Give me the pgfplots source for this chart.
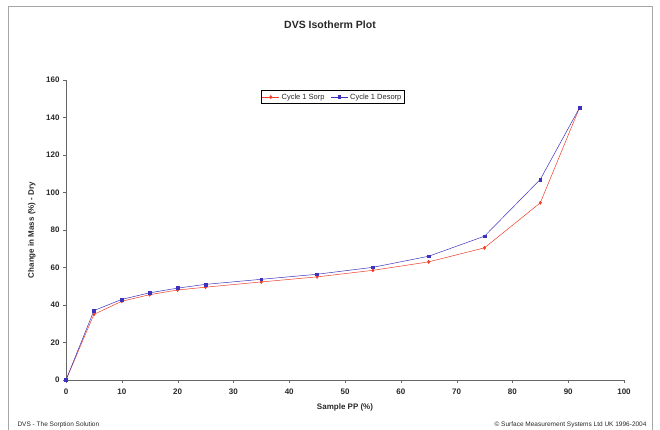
\documentclass[border=0pt]{standalone}
\usepackage{pgfplots}
\pgfplotsset{compat=1.18}
\usepackage{fontspec}
\setmainfont{Liberation Sans}
\definecolor{sorp}{RGB}{240,60,40}
\definecolor{desorp}{RGB}{60,50,190}
\definecolor{txt}{RGB}{40,40,40}
\begin{document}
\begin{tikzpicture}[x=1pt,y=1pt]
\path[use as bounding box] (0pt,0pt) rectangle (660pt,430pt);
\draw[gray!70, line width=0.8pt] (8pt,0pt) rectangle (652pt,424pt);
\node[font=\bfseries\fontsize{10.5}{12}\selectfont, text=txt] at (330pt,405pt) {DVS Isotherm Plot};
\node[font=\fontsize{6.5}{7}\selectfont, text=txt, anchor=west] at (14pt,5pt) {DVS - The Sorption Solution};
\node[font=\fontsize{6.5}{7}\selectfont, text=txt, anchor=east] at (650pt,5pt) {\textcopyright{} Surface Measurement Systems Ltd UK 1996-2004};
\begin{axis}[
  at={(66pt,50pt)}, anchor=south west,
  scale only axis, width=558pt, height=300pt,
  xmin=0, xmax=100, ymin=0, ymax=160,
  xtick={0,10,...,100}, ytick={0,20,...,160},
  axis lines=left, axis line style={-, gray!80!black, line width=0.6pt},
  tick align=outside, major tick length=3pt,
  tick style={gray!80!black},
  every tick label/.append style={font=\bfseries\fontsize{8}{9}\selectfont, text=txt},
  /pgf/number format/assume math mode=true,
  xlabel={Sample PP (\%)},
  ylabel={Change in Mass (\%) - Dry},
  xlabel style={font=\bfseries\fontsize{8}{9}\selectfont, text=txt, at={(axis description cs:0.5,0)}, anchor=north, yshift=-20pt},
  ylabel style={font=\bfseries\fontsize{8}{9}\selectfont, text=txt, at={(axis description cs:0,0.5)}, anchor=south, yshift=27pt},
  xticklabel style={yshift=-2pt},
  legend style={at={(0.478,0.943)}, anchor=center, legend columns=2, font=\fontsize{7.5}{8}\selectfont, draw=black, line width=0.4pt, inner sep=1pt, text=txt,
    /tikz/every even column/.append style={column sep=4pt}},
  legend cell align=left,
]
\addplot[color=sorp, line width=0.5pt, mark=diamond*, mark size=1.6pt, mark options={fill=sorp}] coordinates {
(0,0) (5,35) (10,42) (15,45.5) (20,48) (25,49.5) (35,52.3) (45,55) (55,58.5) (65,63) (75,70.5) (85,94.5) (92,145)
};
\addlegendentry{Cycle 1 Sorp}
\addplot[color=desorp, line width=0.5pt, mark=square*, mark size=1.4pt, mark options={fill=desorp}] coordinates {
(0,0) (5,37) (10,43) (15,46.5) (20,49) (25,51) (35,53.7) (45,56.4) (55,60.1) (65,66) (75,76.7) (85,107) (92,145)
};
\addlegendentry{Cycle 1 Desorp}
\end{axis}
\end{tikzpicture}
\end{document}
